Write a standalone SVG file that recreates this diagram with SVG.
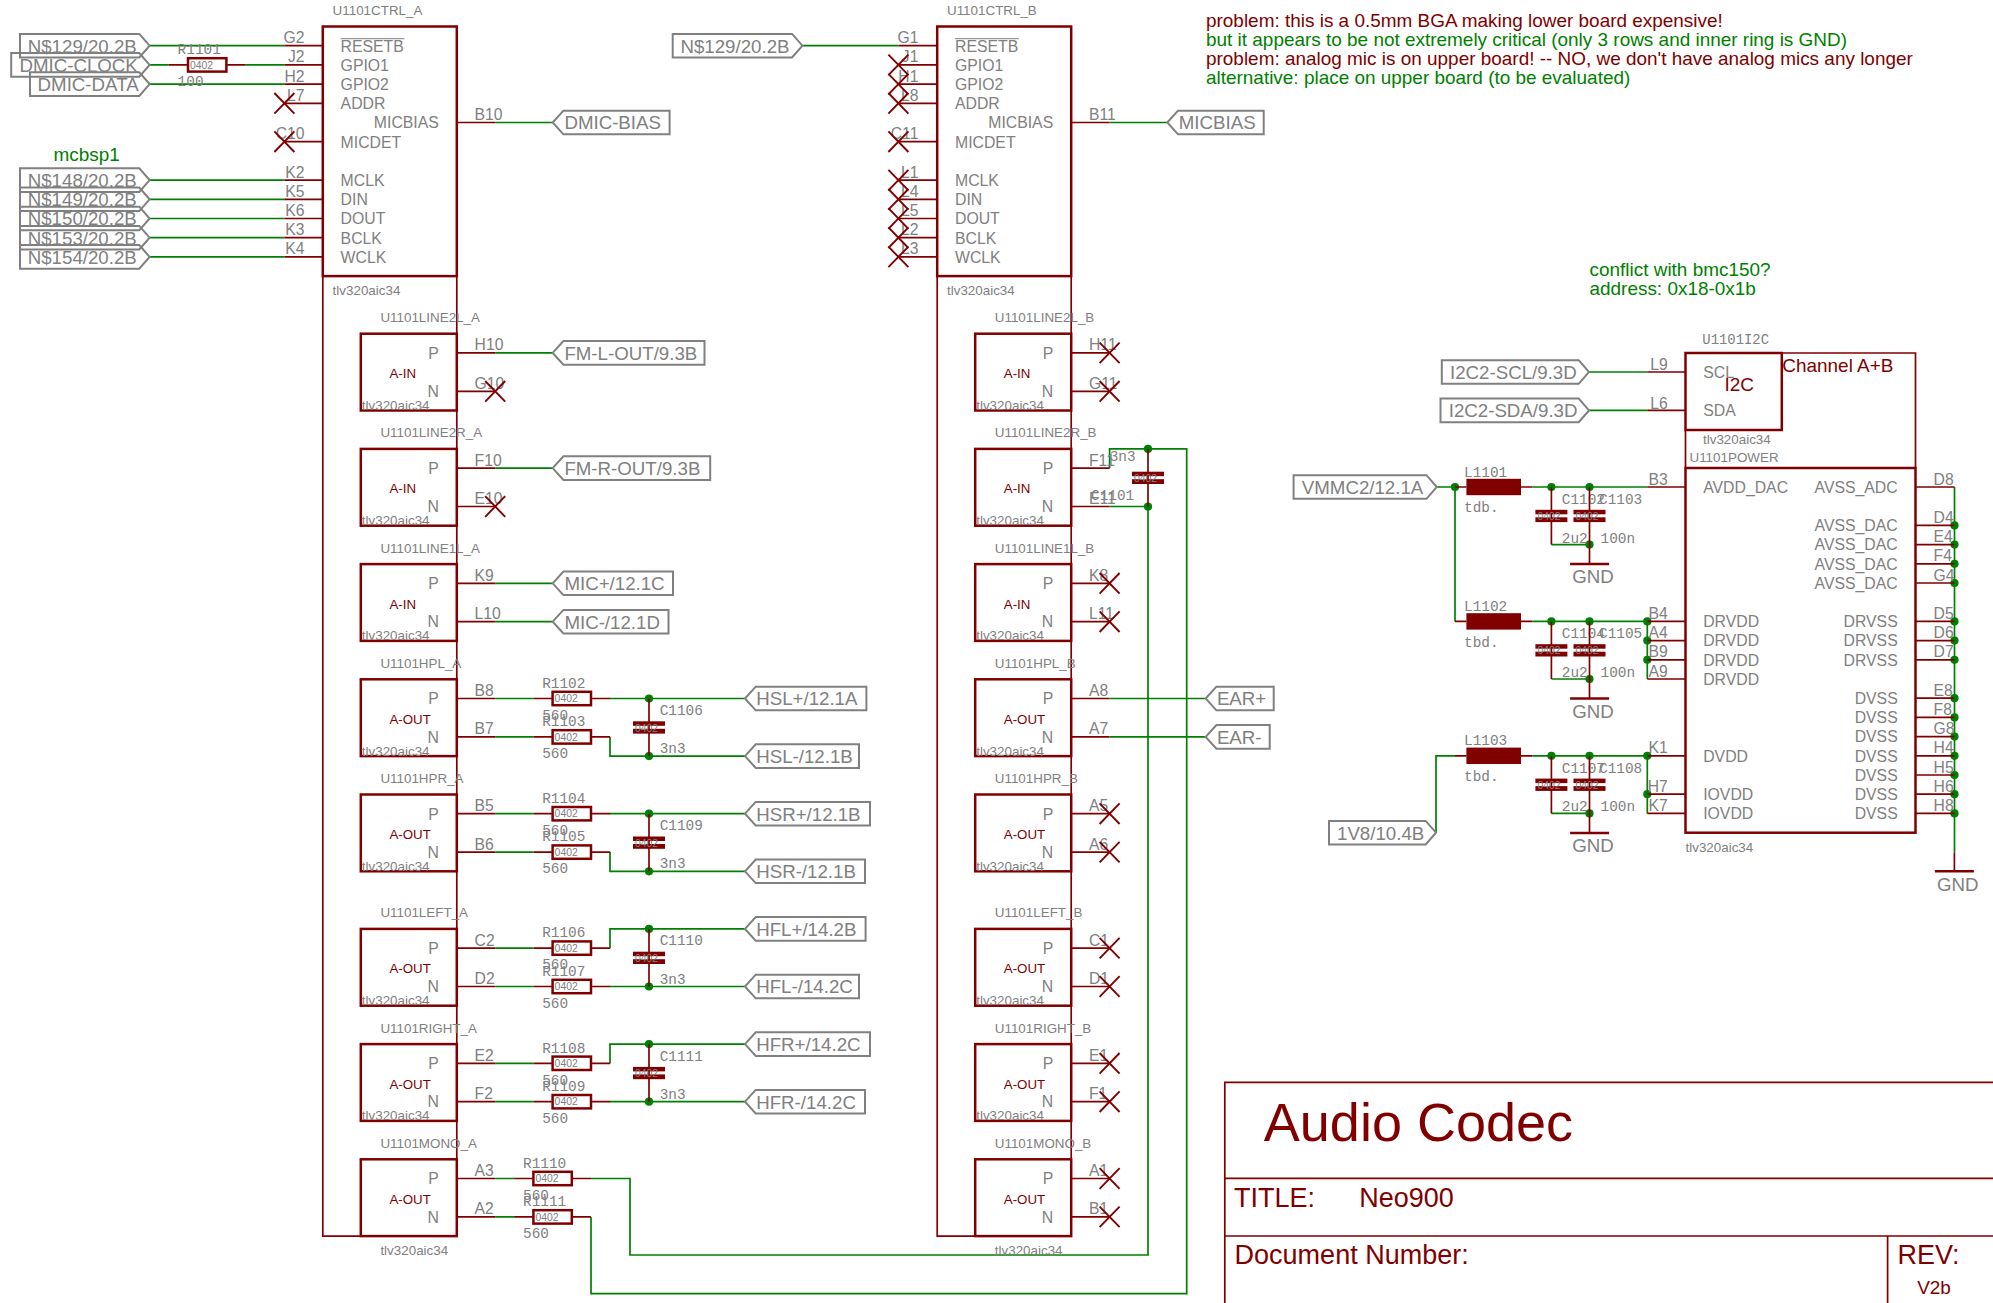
<svg xmlns="http://www.w3.org/2000/svg" xmlns:xlink="http://www.w3.org/1999/xlink" width="1993" height="1303" viewBox="0 0 1993 1303">
<style>
text{font-family:"Liberation Sans",Arial,sans-serif;fill:#808080}
.p{font-size:15.8px}.n{font-size:15.7px;transform:translateY(.5px)}.e{text-anchor:end}
.s{font-size:13.4px}.m{font-family:"Liberation Mono",monospace;font-size:14.4px}
.f{font-size:18.7px}.z{font-size:10.4px}
.r{fill:#800000}.g{fill:#008000}.a{font-size:13.3px}.t{font-size:18.95px}.u{font-size:27px}
.b{fill:none;stroke:#800000;stroke-width:2.5}
.w{fill:none;stroke:#800000;stroke-width:1.7}
.c{fill:none;stroke:#008000;stroke-width:1.7}
.k{fill:none;stroke:#808080;stroke-width:2}
.o{fill:none;stroke:#808080;stroke-width:1}
.d{fill:#800000;stroke:none}
.j{fill:#008000;stroke:none}
.x{fill:none;stroke:#800000;stroke-width:1.9}
</style>
<defs>
<path id="nc" class="x" d="M-10-10.3 10 10.3M-10 10.3 10-10.3"/>
<circle id="dot" class="j" r="4.1"/>
<g id="pl"><rect class="d" x="-16" y="22.8" width="32" height="4.5"/><rect class="d" x="-16" y="30.3" width="32" height="4.8"/></g>
<g id="res"><rect class="b" x="0" y="-6.7" width="38.4" height="13.4"/><path class="w" d="M-19.2 0H0M38.4 0H57.6"/></g>
<g id="ind"><rect class="d" x="0" y="-8.2" width="54.6" height="16.4"/><path class="w" d="M-11.4 0H0M54.6 0H66"/></g>
<path id="gbar" class="b" d="M-19.5 0H19.5"/>
</defs>

<g id="connectors">
<path class="c" d="M149.6 45.7H284.4M149.6 64.9H168.8M245.5 64.9H284.4M149.6 84.1H284.4M149.6 180.1H284.4M149.6 199.3H284.4M149.6 218.5H284.4M149.6 237.7H284.4M149.6 256.9H284.4"/>
<path class="c" d="M802.4 45.7H898.8M495.2 122.5H552.7M1109.6 122.5H1167.3"/>
<path class="c" d="M495.2 352.9H552.7M495.2 468.1H552.7M495.2 583.3H552.7M495.2 621.7H552.7"/>
<path class="c" d="M495.2 698.5H533.4M610 698.5H745M495.2 736.9H533.4M610 736.9V756.1H745"/>
<path class="c" d="M495.2 813.7H533.4M610 813.7H745M495.2 852.1H533.4M610 852.1V871.3H745"/>
<path class="c" d="M495.2 948.1H533.4M610 948.1V928.9H745M495.2 986.5H533.4M610 986.5H745"/>
<path class="c" d="M495.2 1063.3H533.4M610 1063.3V1044.1H745M495.2 1101.7H533.4M610 1101.7H745"/>
<path class="c" d="M495.2 1178.5H514.4M591 1178.5H630V1255H1148V506.5H1109.6"/>
<path class="c" d="M495.2 1216.9H514.4M591 1216.9V1293.7H1186.7V448.9H1109.6V468.1"/>
<path class="c" d="M1109.6 698.5H1205.7M1109.6 736.9H1205.7"/>
<path class="c" d="M1589 372H1647.3M1589 410.4H1647.3"/>
<path class="c" d="M1436.8 487H1455M1455 487V621.4M1532.4 487H1647.3M1532.4 621.4H1647.3V679M1436 832.7V755.8H1455M1532.4 755.8H1647.3V813.4"/>
<path class="c" d="M1551.4 544.6H1589.5M1551.4 679H1589.5M1551.4 813.4H1589.5"/>
<path class="c" d="M1954.5 487V852.3"/>
<use xlink:href="#dot" x="649" y="698.5"/><use xlink:href="#dot" x="649" y="756.1"/>
<use xlink:href="#dot" x="649" y="813.7"/><use xlink:href="#dot" x="649" y="871.3"/>
<use xlink:href="#dot" x="649" y="928.9"/><use xlink:href="#dot" x="649" y="986.5"/>
<use xlink:href="#dot" x="649" y="1044.1"/><use xlink:href="#dot" x="649" y="1101.7"/>
<use xlink:href="#dot" x="1148" y="448.9"/><use xlink:href="#dot" x="1148" y="506.5"/>
<use xlink:href="#dot" x="1455" y="487"/>
<use xlink:href="#dot" x="1551.4" y="487"/><use xlink:href="#dot" x="1589.5" y="487"/><use xlink:href="#dot" x="1589.5" y="544.6"/>
<use xlink:href="#dot" x="1551.4" y="621.4"/><use xlink:href="#dot" x="1589.5" y="621.4"/><use xlink:href="#dot" x="1589.5" y="679"/>
<use xlink:href="#dot" x="1551.4" y="755.8"/><use xlink:href="#dot" x="1589.5" y="755.8"/><use xlink:href="#dot" x="1589.5" y="813.4"/>
<use xlink:href="#dot" x="1647.3" y="621.4"/><use xlink:href="#dot" x="1647.3" y="640.6"/><use xlink:href="#dot" x="1647.3" y="659.8"/>
<use xlink:href="#dot" x="1647.3" y="755.8"/><use xlink:href="#dot" x="1647.3" y="794.2"/>
<use xlink:href="#dot" x="1954.5" y="525.4"/><use xlink:href="#dot" x="1954.5" y="544.6"/><use xlink:href="#dot" x="1954.5" y="563.8"/><use xlink:href="#dot" x="1954.5" y="583"/>
<use xlink:href="#dot" x="1954.5" y="621.4"/><use xlink:href="#dot" x="1954.5" y="640.6"/><use xlink:href="#dot" x="1954.5" y="659.8"/>
<use xlink:href="#dot" x="1954.5" y="698.2"/><use xlink:href="#dot" x="1954.5" y="717.4"/><use xlink:href="#dot" x="1954.5" y="736.6"/><use xlink:href="#dot" x="1954.5" y="755.8"/><use xlink:href="#dot" x="1954.5" y="775"/><use xlink:href="#dot" x="1954.5" y="794.2"/><use xlink:href="#dot" x="1954.5" y="813.4"/>
</g>

<g id="frame_a"><path class="w" d="M322.8 276.1V1236.1H360.8M456.8 276.1V1159.3"/></g>
<g id="frame_b"><path class="w" d="M937.2 276.1V1236.1H975.2M1071.2 276.1V1159.3"/></g>

<g id="U1101CTRL_A">
<rect class="b" x="322.8" y="26.5" width="134" height="249.6"/>
<path class="w" d="M284.4 45.7H322.8M284.4 64.9H322.8M284.4 84.1H322.8M284.4 103.3H322.8M284.4 141.7H322.8M284.4 180.1H322.8M284.4 199.3H322.8M284.4 218.5H322.8M284.4 237.7H322.8M284.4 256.9H322.8M456.8 122.5H495.2"/>
<text class="s" x="332.6" y="15.3">U1101CTRL_A</text><text class="s" x="332.6" y="295">tlv320aic34</text>
<path class="o" d="M340.6 38.7H404.5"/>
<text class="p" x="340.6" y="51.5">RESETB</text><text class="p" x="340.6" y="70.7">GPIO1</text><text class="p" x="340.6" y="89.9">GPIO2</text><text class="p" x="340.6" y="109.1">ADDR</text><text class="p e" x="438.8" y="128.3">MICBIAS</text><text class="p" x="340.6" y="147.5">MICDET</text><text class="p" x="340.6" y="185.9">MCLK</text><text class="p" x="340.6" y="205.1">DIN</text><text class="p" x="340.6" y="224.3">DOUT</text><text class="p" x="340.6" y="243.5">BCLK</text><text class="p" x="340.6" y="262.7">WCLK</text>
<text class="n e" x="304.5" y="42.7">G2</text><text class="n e" x="304.5" y="61.9">J2</text><text class="n e" x="304.5" y="81.1">H2</text><text class="n e" x="304.5" y="100.3">L7</text><text class="n e" x="304.5" y="138.7">C10</text><text class="n e" x="304.5" y="177.1">K2</text><text class="n e" x="304.5" y="196.3">K5</text><text class="n e" x="304.5" y="215.5">K6</text><text class="n e" x="304.5" y="234.7">K3</text><text class="n e" x="304.5" y="253.9">K4</text>
<text class="n" x="474.6" y="119.5">B10</text>
<use xlink:href="#nc" x="284.4" y="103.3"/><use xlink:href="#nc" x="284.4" y="141.7"/>
</g>

<g id="U1101CTRL_B" transform="translate(614.4,0)">
<rect class="b" x="322.8" y="26.5" width="134" height="249.6"/>
<path class="w" d="M284.4 45.7H322.8M284.4 64.9H322.8M284.4 84.1H322.8M284.4 103.3H322.8M284.4 141.7H322.8M284.4 180.1H322.8M284.4 199.3H322.8M284.4 218.5H322.8M284.4 237.7H322.8M284.4 256.9H322.8M456.8 122.5H495.2"/>
<text class="s" x="332.6" y="15.3">U1101CTRL_B</text><text class="s" x="332.6" y="295">tlv320aic34</text>
<path class="o" d="M340.6 38.7H404.5"/>
<text class="p" x="340.6" y="51.5">RESETB</text><text class="p" x="340.6" y="70.7">GPIO1</text><text class="p" x="340.6" y="89.9">GPIO2</text><text class="p" x="340.6" y="109.1">ADDR</text><text class="p e" x="438.8" y="128.3">MICBIAS</text><text class="p" x="340.6" y="147.5">MICDET</text><text class="p" x="340.6" y="185.9">MCLK</text><text class="p" x="340.6" y="205.1">DIN</text><text class="p" x="340.6" y="224.3">DOUT</text><text class="p" x="340.6" y="243.5">BCLK</text><text class="p" x="340.6" y="262.7">WCLK</text>
<text class="n e" x="304" y="42.7">G1</text><text class="n e" x="304" y="61.9">J1</text><text class="n e" x="304" y="81.1">H1</text><text class="n e" x="304" y="100.3">L8</text><text class="n e" x="304" y="138.7">C11</text><text class="n e" x="304" y="177.1">L1</text><text class="n e" x="304" y="196.3">L4</text><text class="n e" x="304" y="215.5">L5</text><text class="n e" x="304" y="234.7">L2</text><text class="n e" x="304" y="253.9">L3</text>
<text class="n" x="474.6" y="119.5">B11</text>
<use xlink:href="#nc" x="284" y="64.9"/><use xlink:href="#nc" x="284" y="84.1"/><use xlink:href="#nc" x="284" y="103.3"/><use xlink:href="#nc" x="284" y="141.7"/><use xlink:href="#nc" x="284" y="180.1"/><use xlink:href="#nc" x="284" y="199.3"/><use xlink:href="#nc" x="284" y="218.5"/><use xlink:href="#nc" x="284" y="237.7"/><use xlink:href="#nc" x="284" y="256.9"/>
</g>

<g id="U1101LINE2L_A" transform="translate(360.8,333.7)"><rect class="b" width="96" height="76.8"/><path class="w" d="M96 19.2H134.4M96 57.6H134.4"/><text class="s" x="19.6" y="-11.6">U1101LINE2L_A</text><text class="p e" x="78" y="25">P</text><text class="p e" x="78" y="63.4">N</text><text class="a r" x="28.6" y="44.5">A-IN</text><text class="s" x="1" y="76.3">tlv320aic34</text><text class="n" x="113.8" y="16.2">H10</text><text class="n" x="113.8" y="54.6">G10</text><use xlink:href="#nc" x="134.4" y="57.6"/></g>
<g id="U1101LINE2R_A" transform="translate(360.8,448.9)"><rect class="b" width="96" height="76.8"/><path class="w" d="M96 19.2H134.4M96 57.6H134.4"/><text class="s" x="19.6" y="-11.6">U1101LINE2R_A</text><text class="p e" x="78" y="25">P</text><text class="p e" x="78" y="63.4">N</text><text class="a r" x="28.6" y="44.5">A-IN</text><text class="s" x="1" y="76.3">tlv320aic34</text><text class="n" x="113.8" y="16.2">F10</text><text class="n" x="113.8" y="54.6">E10</text><use xlink:href="#nc" x="134.4" y="57.6"/></g>
<g id="U1101LINE1L_A" transform="translate(360.8,564.1)"><rect class="b" width="96" height="76.8"/><path class="w" d="M96 19.2H134.4M96 57.6H134.4"/><text class="s" x="19.6" y="-11.6">U1101LINE1L_A</text><text class="p e" x="78" y="25">P</text><text class="p e" x="78" y="63.4">N</text><text class="a r" x="28.6" y="44.5">A-IN</text><text class="s" x="1" y="76.3">tlv320aic34</text><text class="n" x="113.8" y="16.2">K9</text><text class="n" x="113.8" y="54.6">L10</text></g>
<g id="U1101HPL_A" transform="translate(360.8,679.3)"><rect class="b" width="96" height="76.8"/><path class="w" d="M96 19.2H134.4M96 57.6H134.4"/><text class="s" x="19.6" y="-11.6">U1101HPL_A</text><text class="p e" x="78" y="25">P</text><text class="p e" x="78" y="63.4">N</text><text class="a r" x="28.6" y="44.5">A-OUT</text><text class="s" x="1" y="76.3">tlv320aic34</text><text class="n" x="113.8" y="16.2">B8</text><text class="n" x="113.8" y="54.6">B7</text></g>
<g id="U1101HPR_A" transform="translate(360.8,794.5)"><rect class="b" width="96" height="76.8"/><path class="w" d="M96 19.2H134.4M96 57.6H134.4"/><text class="s" x="19.6" y="-11.6">U1101HPR_A</text><text class="p e" x="78" y="25">P</text><text class="p e" x="78" y="63.4">N</text><text class="a r" x="28.6" y="44.5">A-OUT</text><text class="s" x="1" y="76.3">tlv320aic34</text><text class="n" x="113.8" y="16.2">B5</text><text class="n" x="113.8" y="54.6">B6</text></g>
<g id="U1101LEFT_A" transform="translate(360.8,928.9)"><rect class="b" width="96" height="76.8"/><path class="w" d="M96 19.2H134.4M96 57.6H134.4"/><text class="s" x="19.6" y="-11.6">U1101LEFT_A</text><text class="p e" x="78" y="25">P</text><text class="p e" x="78" y="63.4">N</text><text class="a r" x="28.6" y="44.5">A-OUT</text><text class="s" x="1" y="76.3">tlv320aic34</text><text class="n" x="113.8" y="16.2">C2</text><text class="n" x="113.8" y="54.6">D2</text></g>
<g id="U1101RIGHT_A" transform="translate(360.8,1044.1)"><rect class="b" width="96" height="76.8"/><path class="w" d="M96 19.2H134.4M96 57.6H134.4"/><text class="s" x="19.6" y="-11.6">U1101RIGHT_A</text><text class="p e" x="78" y="25">P</text><text class="p e" x="78" y="63.4">N</text><text class="a r" x="28.6" y="44.5">A-OUT</text><text class="s" x="1" y="76.3">tlv320aic34</text><text class="n" x="113.8" y="16.2">E2</text><text class="n" x="113.8" y="54.6">F2</text></g>
<g id="U1101MONO_A" transform="translate(360.8,1159.3)"><rect class="b" width="96" height="76.8"/><path class="w" d="M96 19.2H134.4M96 57.6H134.4"/><text class="s" x="19.6" y="-11.6">U1101MONO_A</text><text class="p e" x="78" y="25">P</text><text class="p e" x="78" y="63.4">N</text><text class="a r" x="28.6" y="44.5">A-OUT</text><text class="s" x="19.6" y="95.7">tlv320aic34</text><text class="n" x="113.8" y="16.2">A3</text><text class="n" x="113.8" y="54.6">A2</text></g>

<g id="U1101LINE2L_B" transform="translate(975.2,333.7)"><rect class="b" width="96" height="76.8"/><path class="w" d="M96 19.2H134.4M96 57.6H134.4"/><text class="s" x="19.6" y="-11.6">U1101LINE2L_B</text><text class="p e" x="78" y="25">P</text><text class="p e" x="78" y="63.4">N</text><text class="a r" x="28.6" y="44.5">A-IN</text><text class="s" x="1" y="76.3">tlv320aic34</text><text class="n" x="113.8" y="16.2">H11</text><text class="n" x="113.8" y="54.6">G11</text><use xlink:href="#nc" x="134.4" y="19.2"/><use xlink:href="#nc" x="134.4" y="57.6"/></g>
<g id="U1101LINE2R_B" transform="translate(975.2,448.9)"><rect class="b" width="96" height="76.8"/><path class="w" d="M96 19.2H134.4M96 57.6H134.4"/><text class="s" x="19.6" y="-11.6">U1101LINE2R_B</text><text class="p e" x="78" y="25">P</text><text class="p e" x="78" y="63.4">N</text><text class="a r" x="28.6" y="44.5">A-IN</text><text class="s" x="1" y="76.3">tlv320aic34</text><text class="n" x="113.8" y="16.2">F11</text><text class="n" x="113.8" y="54.6">E11</text></g>
<g id="U1101LINE1L_B" transform="translate(975.2,564.1)"><rect class="b" width="96" height="76.8"/><path class="w" d="M96 19.2H134.4M96 57.6H134.4"/><text class="s" x="19.6" y="-11.6">U1101LINE1L_B</text><text class="p e" x="78" y="25">P</text><text class="p e" x="78" y="63.4">N</text><text class="a r" x="28.6" y="44.5">A-IN</text><text class="s" x="1" y="76.3">tlv320aic34</text><text class="n" x="113.8" y="16.2">K8</text><text class="n" x="113.8" y="54.6">L11</text><use xlink:href="#nc" x="134.4" y="19.2"/><use xlink:href="#nc" x="134.4" y="57.6"/></g>
<g id="U1101HPL_B" transform="translate(975.2,679.3)"><rect class="b" width="96" height="76.8"/><path class="w" d="M96 19.2H134.4M96 57.6H134.4"/><text class="s" x="19.6" y="-11.6">U1101HPL_B</text><text class="p e" x="78" y="25">P</text><text class="p e" x="78" y="63.4">N</text><text class="a r" x="28.6" y="44.5">A-OUT</text><text class="s" x="1" y="76.3">tlv320aic34</text><text class="n" x="113.8" y="16.2">A8</text><text class="n" x="113.8" y="54.6">A7</text></g>
<g id="U1101HPR_B" transform="translate(975.2,794.5)"><rect class="b" width="96" height="76.8"/><path class="w" d="M96 19.2H134.4M96 57.6H134.4"/><text class="s" x="19.6" y="-11.6">U1101HPR_B</text><text class="p e" x="78" y="25">P</text><text class="p e" x="78" y="63.4">N</text><text class="a r" x="28.6" y="44.5">A-OUT</text><text class="s" x="1" y="76.3">tlv320aic34</text><text class="n" x="113.8" y="16.2">A5</text><text class="n" x="113.8" y="54.6">A6</text><use xlink:href="#nc" x="134.4" y="19.2"/><use xlink:href="#nc" x="134.4" y="57.6"/></g>
<g id="U1101LEFT_B" transform="translate(975.2,928.9)"><rect class="b" width="96" height="76.8"/><path class="w" d="M96 19.2H134.4M96 57.6H134.4"/><text class="s" x="19.6" y="-11.6">U1101LEFT_B</text><text class="p e" x="78" y="25">P</text><text class="p e" x="78" y="63.4">N</text><text class="a r" x="28.6" y="44.5">A-OUT</text><text class="s" x="1" y="76.3">tlv320aic34</text><text class="n" x="113.8" y="16.2">C1</text><text class="n" x="113.8" y="54.6">D1</text><use xlink:href="#nc" x="134.4" y="19.2"/><use xlink:href="#nc" x="134.4" y="57.6"/></g>
<g id="U1101RIGHT_B" transform="translate(975.2,1044.1)"><rect class="b" width="96" height="76.8"/><path class="w" d="M96 19.2H134.4M96 57.6H134.4"/><text class="s" x="19.6" y="-11.6">U1101RIGHT_B</text><text class="p e" x="78" y="25">P</text><text class="p e" x="78" y="63.4">N</text><text class="a r" x="28.6" y="44.5">A-OUT</text><text class="s" x="1" y="76.3">tlv320aic34</text><text class="n" x="113.8" y="16.2">E1</text><text class="n" x="113.8" y="54.6">F1</text><use xlink:href="#nc" x="134.4" y="19.2"/><use xlink:href="#nc" x="134.4" y="57.6"/></g>
<g id="U1101MONO_B" transform="translate(975.2,1159.3)"><rect class="b" width="96" height="76.8"/><path class="w" d="M96 19.2H134.4M96 57.6H134.4"/><text class="s" x="19.6" y="-11.6">U1101MONO_B</text><text class="p e" x="78" y="25">P</text><text class="p e" x="78" y="63.4">N</text><text class="a r" x="28.6" y="44.5">A-OUT</text><text class="s" x="19.6" y="95.7">tlv320aic34</text><text class="n" x="113.8" y="16.2">A1</text><text class="n" x="113.8" y="54.6">B1</text><use xlink:href="#nc" x="134.4" y="19.2"/><use xlink:href="#nc" x="134.4" y="57.6"/></g>

<g id="R1101" transform="translate(188,64.9)"><use xlink:href="#res"/><text class="z" x="2" y="3.7">0402</text><text class="m" x="-10.4" y="-10.6">R1101</text><text class="m" x="-10.4" y="21.1">100</text></g>
<g id="R1102" transform="translate(552.6,698.5)"><use xlink:href="#res"/><text class="z" x="2" y="3.7">0402</text><text class="m" x="-10.4" y="-10.8">R1102</text><text class="m" x="-10.4" y="21.4">560</text></g>
<g id="R1103" transform="translate(552.6,736.9)"><use xlink:href="#res"/><text class="z" x="2" y="3.7">0402</text><text class="m" x="-10.4" y="-10.8">R1103</text><text class="m" x="-10.4" y="21.4">560</text></g>
<g id="R1104" transform="translate(552.6,813.7)"><use xlink:href="#res"/><text class="z" x="2" y="3.7">0402</text><text class="m" x="-10.4" y="-10.8">R1104</text><text class="m" x="-10.4" y="21.4">560</text></g>
<g id="R1105" transform="translate(552.6,852.1)"><use xlink:href="#res"/><text class="z" x="2" y="3.7">0402</text><text class="m" x="-10.4" y="-10.8">R1105</text><text class="m" x="-10.4" y="21.4">560</text></g>
<g id="R1106" transform="translate(552.6,948.1)"><use xlink:href="#res"/><text class="z" x="2" y="3.7">0402</text><text class="m" x="-10.4" y="-10.8">R1106</text><text class="m" x="-10.4" y="21.4">560</text></g>
<g id="R1107" transform="translate(552.6,986.5)"><use xlink:href="#res"/><text class="z" x="2" y="3.7">0402</text><text class="m" x="-10.4" y="-10.8">R1107</text><text class="m" x="-10.4" y="21.4">560</text></g>
<g id="R1108" transform="translate(552.6,1063.3)"><use xlink:href="#res"/><text class="z" x="2" y="3.7">0402</text><text class="m" x="-10.4" y="-10.8">R1108</text><text class="m" x="-10.4" y="21.4">560</text></g>
<g id="R1109" transform="translate(552.6,1101.7)"><use xlink:href="#res"/><text class="z" x="2" y="3.7">0402</text><text class="m" x="-10.4" y="-10.8">R1109</text><text class="m" x="-10.4" y="21.4">560</text></g>
<g id="R1110" transform="translate(533.4,1178.5)"><use xlink:href="#res"/><text class="z" x="2" y="3.7">0402</text><text class="m" x="-10.4" y="-10.8">R1110</text><text class="m" x="-10.4" y="21.4">560</text></g>
<g id="R1111" transform="translate(533.4,1216.9)"><use xlink:href="#res"/><text class="z" x="2" y="3.7">0402</text><text class="m" x="-10.4" y="-10.8">R1111</text><text class="m" x="-10.4" y="21.4">560</text></g>

<g id="C1106" transform="translate(649,698.5)"><path class="w" d="M0 0V57.6"/><use xlink:href="#pl"/><text class="z" x="-14" y="33">0402</text><text class="m" x="10.7" y="16.5">C1106</text><text class="m" x="10.7" y="54.8">3n3</text></g>
<g id="C1109" transform="translate(649,813.7)"><path class="w" d="M0 0V57.6"/><use xlink:href="#pl"/><text class="z" x="-14" y="33">0402</text><text class="m" x="10.7" y="16.5">C1109</text><text class="m" x="10.7" y="54.8">3n3</text></g>
<g id="C1110" transform="translate(649,928.9)"><path class="w" d="M0 0V57.6"/><use xlink:href="#pl"/><text class="z" x="-14" y="33">0402</text><text class="m" x="10.7" y="16.5">C1110</text><text class="m" x="10.7" y="54.8">3n3</text></g>
<g id="C1111" transform="translate(649,1044.1)"><path class="w" d="M0 0V57.6"/><use xlink:href="#pl"/><text class="z" x="-14" y="33">0402</text><text class="m" x="10.7" y="16.5">C1111</text><text class="m" x="10.7" y="54.8">3n3</text></g>
<g id="C1101" transform="translate(1148,448.9)"><path class="w" d="M0 0V57.6"/><use xlink:href="#pl"/><text class="z" x="-14" y="33">0402</text><text class="m" x="-57" y="51">C1101</text><text class="m" x="-38.3" y="11.8">3n3</text></g>

<g id="C1102" transform="translate(1551.4,487)"><path class="w" d="M0 0V57.6"/><use xlink:href="#pl"/><text class="z" x="-14" y="33">0402</text><text class="m" x="10.4" y="17.3">C1102</text><text class="m" x="10.4" y="55.7">2u2</text></g>
<g id="C1103" transform="translate(1589.5,487)"><path class="w" d="M0 0V77"/><use xlink:href="#pl"/><text class="z" x="-14" y="33">0402</text><text class="m" x="9.5" y="17.3">C1103</text><text class="m" x="11" y="55.7">100n</text></g>
<g id="C1104" transform="translate(1551.4,621.4)"><path class="w" d="M0 0V57.6"/><use xlink:href="#pl"/><text class="z" x="-14" y="33">0402</text><text class="m" x="10.4" y="17">C1104</text><text class="m" x="10.4" y="55.3">2u2</text></g>
<g id="C1105" transform="translate(1589.5,621.4)"><path class="w" d="M0 0V77"/><use xlink:href="#pl"/><text class="z" x="-14" y="33">0402</text><text class="m" x="9.5" y="17">C1105</text><text class="m" x="11" y="55.3">100n</text></g>
<g id="C1107" transform="translate(1551.4,755.8)"><path class="w" d="M0 0V57.6"/><use xlink:href="#pl"/><text class="z" x="-14" y="33">0402</text><text class="m" x="10.4" y="17">C1107</text><text class="m" x="10.4" y="55.3">2u2</text></g>
<g id="C1108" transform="translate(1589.5,755.8)"><path class="w" d="M0 0V77"/><use xlink:href="#pl"/><text class="z" x="-14" y="33">0402</text><text class="m" x="9.5" y="17">C1108</text><text class="m" x="11" y="55.3">100n</text></g>

<g id="L1101" transform="translate(1466.4,487)"><use xlink:href="#ind"/><text class="m" x="-2.4" y="-10.3">L1101</text><text class="m" x="-2.4" y="25.3">tdb.</text></g>
<g id="L1102" transform="translate(1466.4,621.4)"><use xlink:href="#ind"/><text class="m" x="-2.4" y="-10.7">L1102</text><text class="m" x="-2.4" y="25.3">tbd.</text></g>
<g id="L1103" transform="translate(1466.4,755.8)"><use xlink:href="#ind"/><text class="m" x="-2.4" y="-10.7">L1103</text><text class="m" x="-2.4" y="25.2">tbd.</text></g>

<g id="GND1" transform="translate(1589.6,564)"><use xlink:href="#gbar"/><text class="f" x="-17.3" y="19.3">GND</text></g>
<g id="GND2" transform="translate(1589.6,698.6)"><use xlink:href="#gbar"/><text class="f" x="-17.3" y="19.3">GND</text></g>
<g id="GND3" transform="translate(1589.6,833)"><use xlink:href="#gbar"/><text class="f" x="-17.3" y="19">GND</text></g>
<g id="GND4" transform="translate(1954.4,871.3)"><path class="w" d="M0 -19V0"/><use xlink:href="#gbar"/><text class="f" x="-17.4" y="19.4">GND</text></g>

<g id="U1101I2C">
<path class="w" d="M1781.8 353H1915.5V468M1685.5 430V468"/>
<rect class="b" x="1685.5" y="353" width="96.3" height="77"/>
<path class="w" d="M1647.3 372H1685.5M1647.3 410.4H1685.5"/>
<text class="m" x="1702.3" y="343.7" style="font-size:13.9px">U1101I2C</text>
<text class="s" x="1703" y="444.3">tlv320aic34</text>
<text class="p" x="1703.2" y="377.8">SCL</text><text class="p" x="1703.2" y="416.2">SDA</text>
<text class="t r" x="1724.5" y="391">I2C</text>
<text class="t r" x="1782.3" y="372.3">Channel A+B</text>
<text class="n e" x="1667.7" y="369.6">L9</text><text class="n e" x="1667.7" y="408">L6</text>
</g>

<g id="U1101POWER">
<rect class="b" x="1685.5" y="468" width="230" height="364.7"/>
<path class="w" d="M1647.3 487H1685.5M1647.3 621.4H1685.5M1647.3 640.6H1685.5M1647.3 659.8H1685.5M1647.3 679H1685.5M1647.3 755.8H1685.5M1647.3 794.2H1685.5M1647.3 813.4H1685.5"/>
<path class="w" d="M1915.5 487H1954.5M1915.5 525.4H1954.5M1915.5 544.6H1954.5M1915.5 563.8H1954.5M1915.5 583H1954.5M1915.5 621.4H1954.5M1915.5 640.6H1954.5M1915.5 659.8H1954.5M1915.5 698.2H1954.5M1915.5 717.4H1954.5M1915.5 736.6H1954.5M1915.5 755.8H1954.5M1915.5 775H1954.5M1915.5 794.2H1954.5M1915.5 813.4H1954.5"/>
<text class="s" x="1689.5" y="461.7">U1101POWER</text>
<text class="s" x="1685.5" y="851.7">tlv320aic34</text>
<text class="p" x="1703.2" y="492.8">AVDD_DAC</text><text class="p" x="1703.2" y="627.2">DRVDD</text><text class="p" x="1703.2" y="646.4">DRVDD</text><text class="p" x="1703.2" y="665.6">DRVDD</text><text class="p" x="1703.2" y="684.8">DRVDD</text><text class="p" x="1703.2" y="761.6">DVDD</text><text class="p" x="1703.2" y="800">IOVDD</text><text class="p" x="1703.2" y="819.2">IOVDD</text>
<text class="p e" x="1897.7" y="492.8">AVSS_ADC</text><text class="p e" x="1897.7" y="531.2">AVSS_DAC</text><text class="p e" x="1897.7" y="550.4">AVSS_DAC</text><text class="p e" x="1897.7" y="569.6">AVSS_DAC</text><text class="p e" x="1897.7" y="588.8">AVSS_DAC</text><text class="p e" x="1897.7" y="627.2">DRVSS</text><text class="p e" x="1897.7" y="646.4">DRVSS</text><text class="p e" x="1897.7" y="665.6">DRVSS</text><text class="p e" x="1897.7" y="704">DVSS</text><text class="p e" x="1897.7" y="723.2">DVSS</text><text class="p e" x="1897.7" y="742.4">DVSS</text><text class="p e" x="1897.7" y="761.6">DVSS</text><text class="p e" x="1897.7" y="780.8">DVSS</text><text class="p e" x="1897.7" y="800">DVSS</text><text class="p e" x="1897.7" y="819.2">DVSS</text>
<text class="n e" x="1667.7" y="484.6">B3</text><text class="n e" x="1667.7" y="618.4">B4</text><text class="n e" x="1667.7" y="637.6">A4</text><text class="n e" x="1667.7" y="656.8">B9</text><text class="n e" x="1667.7" y="676">A9</text><text class="n e" x="1667.7" y="752.8">K1</text><text class="n e" x="1667.7" y="791.2">H7</text><text class="n e" x="1667.7" y="810.4">K7</text>
<text class="n" x="1933.6" y="484.6">D8</text><text class="n" x="1933.6" y="522.4">D4</text><text class="n" x="1933.6" y="541.6">E4</text><text class="n" x="1933.6" y="560.8">F4</text><text class="n" x="1933.6" y="580">G4</text><text class="n" x="1933.6" y="618.4">D5</text><text class="n" x="1933.6" y="637.6">D6</text><text class="n" x="1933.6" y="656.8">D7</text><text class="n" x="1933.6" y="695.2">E8</text><text class="n" x="1933.6" y="714.4">F8</text><text class="n" x="1933.6" y="733.6">G8</text><text class="n" x="1933.6" y="752.8">H4</text><text class="n" x="1933.6" y="772">H5</text><text class="n" x="1933.6" y="791.2">H6</text><text class="n" x="1933.6" y="810.4">H8</text>
</g>

<g id="flags">
<g id="f1" transform="translate(149.6,45.7)"><path class="k" d="M-129.6-11.8H-10.3L0 0-10.3 11.8H-129.6Z"/><text class="f" x="-121.9" y="6.8">N$129/20.2B</text></g>
<g id="f2" transform="translate(149.6,64.9)"><path class="k" d="M-138.4-11.8H-10.3L0 0-10.3 11.8H-138.4Z"/><text class="f" x="-130.2" y="6.8">DMIC-CLOCK</text></g>
<g id="f3" transform="translate(149.6,84.1)"><path class="k" d="M-119.6-11.8H-10.3L0 0-10.3 11.8H-119.6Z"/><text class="f" x="-112" y="6.8">DMIC-DATA</text></g>
<g id="f4" transform="translate(149.6,180.1)"><path class="k" d="M-129.6-11.8H-10.3L0 0-10.3 11.8H-129.6Z"/><text class="f" x="-121.9" y="6.8">N$148/20.2B</text></g>
<g id="f5" transform="translate(149.6,199.3)"><path class="k" d="M-129.6-11.8H-10.3L0 0-10.3 11.8H-129.6Z"/><text class="f" x="-121.9" y="6.8">N$149/20.2B</text></g>
<g id="f6" transform="translate(149.6,218.5)"><path class="k" d="M-129.6-11.8H-10.3L0 0-10.3 11.8H-129.6Z"/><text class="f" x="-121.9" y="6.8">N$150/20.2B</text></g>
<g id="f7" transform="translate(149.6,237.7)"><path class="k" d="M-129.6-11.8H-10.3L0 0-10.3 11.8H-129.6Z"/><text class="f" x="-121.9" y="6.8">N$153/20.2B</text></g>
<g id="f8" transform="translate(149.6,256.9)"><path class="k" d="M-129.6-11.8H-10.3L0 0-10.3 11.8H-129.6Z"/><text class="f" x="-121.9" y="6.8">N$154/20.2B</text></g>
<g id="f9" transform="translate(802.4,45.7)"><path class="k" d="M-129.7-11.8H-10.3L0 0-10.3 11.8H-129.7Z"/><text class="f" x="-122" y="6.8">N$129/20.2B</text></g>
<g id="f10" transform="translate(1589,372)"><path class="k" d="M-147.2-11.8H-10.3L0 0-10.3 11.8H-147.2Z"/><text class="f" x="-139" y="6.8">I2C2-SCL/9.3D</text></g>
<g id="f11" transform="translate(1589,410.4)"><path class="k" d="M-148.5-11.8H-10.3L0 0-10.3 11.8H-148.5Z"/><text class="f" x="-140.3" y="6.8">I2C2-SDA/9.3D</text></g>
<g id="f12" transform="translate(1436.8,487)"><path class="k" d="M-143.2-11.8H-10.3L0 0-10.3 11.8H-143.2Z"/><text class="f" x="-135" y="6.8">VMMC2/12.1A</text></g>
<g id="f13" transform="translate(1436,832.7)"><path class="k" d="M-107-11.8H-10.3L0 0-10.3 11.8H-107Z"/><text class="f" x="-99" y="6.8">1V8/10.4B</text></g>

<g id="f14" transform="translate(552.7,122.5)"><path class="k" d="M0 0 10.7-11.8H116.9V11.8H10.7Z"/><text class="f" x="11.7" y="6.8">DMIC-BIAS</text></g>
<g id="f15" transform="translate(1167.3,122.5)"><path class="k" d="M0 0 10.7-11.8H96.4V11.8H10.7Z"/><text class="f" x="11.5" y="6.8">MICBIAS</text></g>
<g id="f16" transform="translate(552.7,352.9)"><path class="k" d="M0 0 10.7-11.8H151.8V11.8H10.7Z"/><text class="f" x="11.7" y="6.8">FM-L-OUT/9.3B</text></g>
<g id="f17" transform="translate(552.7,468.1)"><path class="k" d="M0 0 10.7-11.8H157.5V11.8H10.7Z"/><text class="f" x="11.7" y="6.8">FM-R-OUT/9.3B</text></g>
<g id="f18" transform="translate(552.7,583.3)"><path class="k" d="M0 0 10.7-11.8H120.3V11.8H10.7Z"/><text class="f" x="11.7" y="6.8">MIC+/12.1C</text></g>
<g id="f19" transform="translate(552.7,621.7)"><path class="k" d="M0 0 10.7-11.8H115.8V11.8H10.7Z"/><text class="f" x="11.7" y="6.8">MIC-/12.1D</text></g>
<g id="f20" transform="translate(745,698.5)"><path class="k" d="M0 0 10.7-11.8H121.4V11.8H10.7Z"/><text class="f" x="11.2" y="6.8">HSL+/12.1A</text></g>
<g id="f21" transform="translate(745,756.1)"><path class="k" d="M0 0 10.7-11.8H114V11.8H10.7Z"/><text class="f" x="11.2" y="6.8">HSL-/12.1B</text></g>
<g id="f22" transform="translate(745,813.7)"><path class="k" d="M0 0 10.7-11.8H125V11.8H10.7Z"/><text class="f" x="11.2" y="6.8">HSR+/12.1B</text></g>
<g id="f23" transform="translate(745,871.3)"><path class="k" d="M0 0 10.7-11.8H120V11.8H10.7Z"/><text class="f" x="11.2" y="6.8">HSR-/12.1B</text></g>
<g id="f24" transform="translate(745,928.9)"><path class="k" d="M0 0 10.7-11.8H120.6V11.8H10.7Z"/><text class="f" x="11.2" y="6.8">HFL+/14.2B</text></g>
<g id="f25" transform="translate(745,986.5)"><path class="k" d="M0 0 10.7-11.8H114V11.8H10.7Z"/><text class="f" x="11.2" y="6.8">HFL-/14.2C</text></g>
<g id="f26" transform="translate(745,1044.1)"><path class="k" d="M0 0 10.7-11.8H125V11.8H10.7Z"/><text class="f" x="11.2" y="6.8">HFR+/14.2C</text></g>
<g id="f27" transform="translate(745,1101.7)"><path class="k" d="M0 0 10.7-11.8H120V11.8H10.7Z"/><text class="f" x="11.2" y="6.8">HFR-/14.2C</text></g>
<g id="f28" transform="translate(1205.7,698.5)"><path class="k" d="M0 0 10.7-11.8H68V11.8H10.7Z"/><text class="f" x="11.2" y="6.8">EAR+</text></g>
<g id="f29" transform="translate(1205.7,736.9)"><path class="k" d="M0 0 10.7-11.8H64V11.8H10.7Z"/><text class="f" x="11.2" y="6.8">EAR-</text></g>
</g>

<g id="notes">
<text class="t g" x="53.6" y="160.7">mcbsp1</text>
<text class="t r" x="1206" y="26.7">problem: this is a 0.5mm BGA making lower board expensive!</text>
<text class="t g" x="1206" y="46">but it appears to be not extremely critical (only 3 rows and inner ring is GND)</text>
<text class="t r" x="1206" y="65">problem: analog mic is on upper board! -- NO, we don't have analog mics any longer</text>
<text class="t g" x="1206" y="84">alternative: place on upper board (to be evaluated)</text>
<text class="t g" x="1589.5" y="276">conflict with bmc150?</text>
<text class="t g" x="1589.5" y="295">address: 0x18-0x1b</text>
</g>

<g id="title_block">
<path class="w" d="M1224.8 1303V1082.3H1993M1224.8 1178.3H1993M1224.8 1236H1993M1887.6 1236V1303"/>
<text class="r" x="1263.8" y="1140.7" style="font-size:54px">Audio Codec</text>
<text class="u r" x="1234" y="1206.7">TITLE:</text><text class="u r" x="1359.2" y="1206.7">Neo900</text>
<text class="u r" x="1234.6" y="1264">Document Number:</text><text class="u r" x="1897.6" y="1264">REV:</text>
<text class="t r" x="1917.2" y="1294.3">V2b</text>
</g>
</svg>
